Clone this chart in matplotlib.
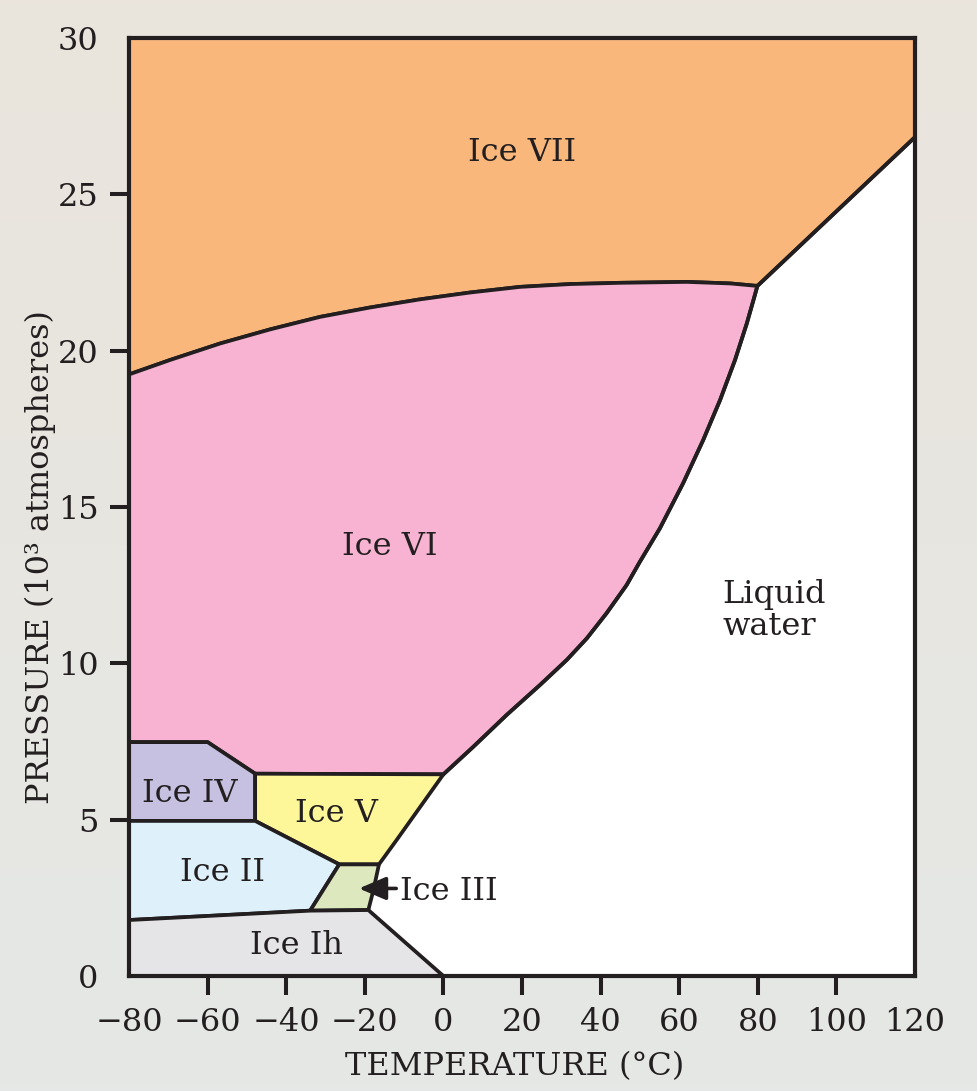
import numpy as np
import matplotlib
matplotlib.use("Agg")
import matplotlib.pyplot as plt
from matplotlib.patches import Polygon

# ---- data (temperature °C, pressure 10^3 atm) ----
ice_ih_T = [-80, 0, -19.1, -33.9, -80]
ice_ih_P = [0, 0, 2.11, 2.09, 1.79]

ice_ii_T = [-80, -33.9, -26.5, -47.9, -80]
ice_ii_P = [1.79, 2.09, 3.57, 4.96, 4.96]

ice_iii_T = [-33.9, -19.1, -17.8, -16.4, -26.5]
ice_iii_P = [2.09, 2.11, 2.75, 3.57, 3.57]

ice_v_T = [-47.9, -26.5, -16.4, -11.9, 0, -47.9]
ice_v_P = [4.96, 3.57, 3.57, 4.35, 6.45, 6.47]

ice_iv_T = [-80, -47.9, -47.9, -60, -80]
ice_iv_P = [4.96, 4.96, 6.47, 7.48, 7.48]

# Ice VI / liquid boundary (melting curve), bottom to top
vi_liq_T = [0, 7.6, 16.1, 24.6, 31.4, 36.5, 41.5, 46.6, 50.0, 55.1, 61.0,
            66.1, 70.4, 74.2, 77.2, 78.9, 79.9]
vi_liq_P = [6.45, 7.33, 8.35, 9.31, 10.11, 10.8, 11.6, 12.5, 13.25, 14.32, 15.76,
            17.14, 18.42, 19.7, 20.87, 21.62, 22.07]

# Ice VI / Ice VII boundary, left to right
vi_vii_T = [-80, -69.6, -56.8, -44.1, -31.4, -18.7, -6, 6.8, 19.5, 32.2, 44.9,
            61.9, 73, 79.9]
vi_vii_P = [19.24, 19.7, 20.23, 20.68, 21.08, 21.38, 21.64, 21.86, 22.04, 22.13, 22.17,
            22.2, 22.15, 22.07]

# Ice VII / liquid boundary
vii_liq_T = [79.9, 120]
vii_liq_P = [22.07, 26.83]

ice_vi_T = [-80, -60, -47.9, 0] + vi_liq_T[1:] + vi_vii_T[::-1][1:]
ice_vi_P = [7.48, 7.48, 6.47, 6.45] + vi_liq_P[1:] + vi_vii_P[::-1][1:]

ice_vii_T = vi_vii_T + [120, 120, -80]
ice_vii_P = vi_vii_P + [26.83, 30, 30]

x_ticks = [-80, -60, -40, -20, 0, 20, 40, 60, 80, 100, 120]
y_ticks = [0, 5, 10, 15, 20, 25, 30]

regions = [
    ("Ice VII", ice_vii_T, ice_vii_P, "#F9B77C"),
    ("Ice VI", ice_vi_T, ice_vi_P, "#F7B3D1"),
    ("Ice IV", ice_iv_T, ice_iv_P, "#C6C1E1"),
    ("Ice V", ice_v_T, ice_v_P, "#FEF79A"),
    ("Ice II", ice_ii_T, ice_ii_P, "#DEF1FB"),
    ("Ice III", ice_iii_T, ice_iii_P, "#DDE8BE"),
    ("Ice Ih", ice_ih_T, ice_ih_P, "#E5E5E7"),
]

LINE = "#231F20"
plt.rcParams['font.family'] = ['DejaVu Serif']

fig = plt.figure(figsize=(9.78, 10.91), dpi=100)

# background gradient
bg = fig.add_axes([0, 0, 1, 1], zorder=-10)
top = np.array([234, 228, 220]) / 255
bot = np.array([229, 232, 230]) / 255
t = np.linspace(0, 1, 256)[:, None]
grad = (top[None, :] * (1 - t) + bot[None, :] * t)[:, None, :]
bg.imshow(grad, aspect='auto', extent=[0, 1, 0, 1])
bg.axis('off')

ax = fig.add_axes([129 / 978, 1 - 976 / 1091, (915 - 129) / 978, (976 - 38) / 1091])
ax.set_facecolor("white")
ax.set_xlim(-80, 120)
ax.set_ylim(0, 30)

LW = 2.7
for name, T, P, col in regions:
    ax.add_patch(Polygon(np.column_stack([T, P]), closed=True, facecolor=col,
                         edgecolor=LINE, lw=LW, joinstyle='round', zorder=2))
ax.plot(vii_liq_T, vii_liq_P, color=LINE, lw=LW, zorder=3, solid_joinstyle='round')
ax.plot(vi_liq_T, vi_liq_P, color=LINE, lw=LW, zorder=3, solid_joinstyle='round')

fs = 23
ax.text(20, 26.35, "Ice VII", ha='center', va='center', fontsize=fs, color=LINE, zorder=5)
ax.text(-13.6, 13.75, "Ice VI", ha='center', va='center', fontsize=fs, color=LINE, zorder=5)
ax.text(71.0, 11.7, "Liquid\nwater", ha='left', va='center', fontsize=fs,
        linespacing=1.05, color=LINE, zorder=5)
ax.text(-64.5, 5.85, "Ice IV", ha='center', va='center', fontsize=fs, color=LINE, zorder=5)
ax.text(-27.3, 5.2, "Ice V", ha='center', va='center', fontsize=fs, color=LINE, zorder=5)
ax.text(-56.3, 3.3, "Ice II", ha='center', va='center', fontsize=fs, color=LINE, zorder=5)
ax.text(-37.3, 0.98, "Ice Ih", ha='center', va='center', fontsize=fs, color=LINE, zorder=5)
ax.text(-11.0, 2.7, "Ice III", ha='left', va='center', fontsize=fs, color=LINE, zorder=5)
ax.annotate("", xy=(-21.5, 2.8), xytext=(-12.0, 2.8),
            arrowprops=dict(arrowstyle='-|>,head_length=0.75,head_width=0.32', lw=2.6,
                            color=LINE, mutation_scale=22, shrinkA=0, shrinkB=0),
            zorder=6)

for s in ax.spines.values():
    s.set_linewidth(3.0)
    s.set_color(LINE)
    s.set_zorder(7)

ax.set_xticks(x_ticks)
ax.set_yticks(y_ticks)
ax.set_xticklabels([str(v).replace('-', '\u2212') for v in x_ticks])
ax.set_yticklabels([str(v) for v in y_ticks])
ax.tick_params(axis='both', direction='out', length=14, width=2.9, color=LINE,
               labelsize=fs, labelcolor=LINE)
ax.tick_params(axis='x', pad=8)
ax.tick_params(axis='y', pad=8)
for ticks in (ax.xaxis.get_major_ticks(), ax.yaxis.get_major_ticks()):
    ticks[0].tick1line.set_visible(False)
    ticks[-1].tick1line.set_visible(False)

ax.set_xlabel("TEMPERATURE (°C)", fontsize=fs, color=LINE, va='center')
ax.xaxis.set_label_coords(0.49, -0.097)
ax.set_ylabel("PRESSURE (10³ atmospheres)", fontsize=fs, color=LINE, va='center')
ax.yaxis.set_label_coords(-0.113, 0.447)

fig.savefig("out.png", dpi=100)
